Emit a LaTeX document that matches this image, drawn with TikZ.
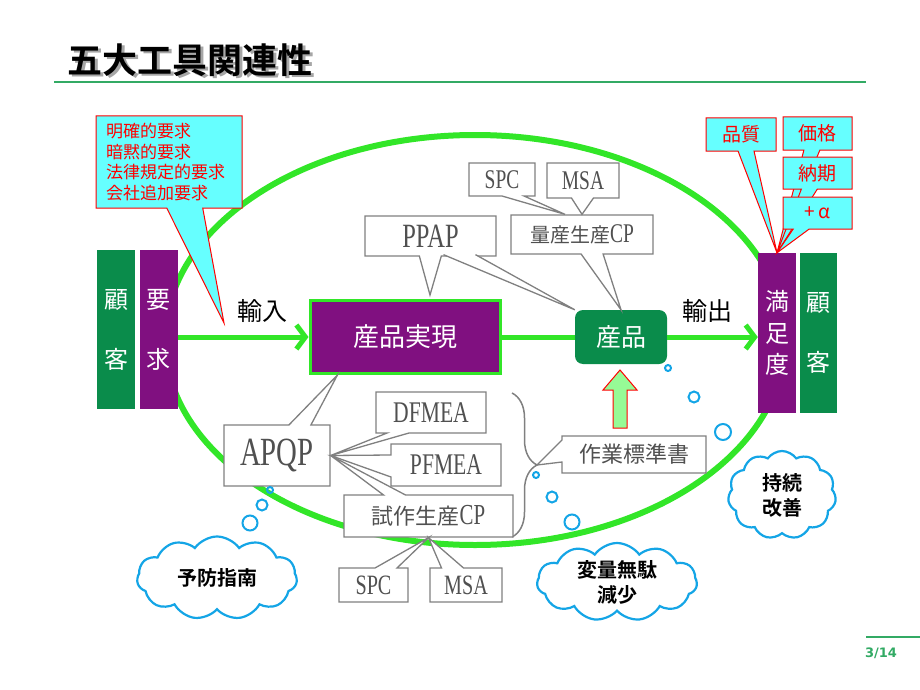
\documentclass[tikz,border=0pt]{standalone}
\usepackage{fontspec}
\setmainfont{Liberation Serif}
\newfontfamily\jp{Noto Sans CJK JP}
\newfontfamily\jpb{Noto Sans CJK JP Bold}
\newfontfamily\cond{Liberation Serif}[FakeStretch=0.72]
\newfontfamily\pagefont{DejaVu Sans}
\usepackage{tikz}
\usetikzlibrary{shapes.callouts, shapes.symbols}
\usetikzlibrary{arrows.meta}
\usetikzlibrary{decorations.pathreplacing, calc}
\usepackage{xcolor}
\definecolor{linegreen}{RGB}{50,230,40}
\definecolor{custgreen}{RGB}{10,140,75}
\definecolor{reqpurple}{RGB}{128,16,128}
\definecolor{notecyan}{RGB}{102,255,255}
\definecolor{boxgray}{RGB}{128,128,128}
\definecolor{textgray}{RGB}{80,80,80}
\definecolor{bubbleblue}{RGB}{20,165,230}
\definecolor{upgreen}{RGB}{150,250,150}
\definecolor{titlegreen}{RGB}{50,170,100}

\begin{document}
\begin{tikzpicture}[x=1pt, y=-1pt,
			bar/.style={minimum width=38pt, minimum height=159pt, inner sep=0pt, text=white, align=center},
			flow/.style={draw=linegreen, line width=5pt},
			redcall/.style={rectangle callout, draw=red, fill=notecyan, text=red, line width=1pt, inner sep=0pt, callout pointer width=16pt, font=\jp\fontsize{19}{22}\selectfont},
			graycall/.style={rectangle callout, draw=boxgray, fill=white, text=textgray, line width=1.3pt, inner sep=0pt, callout pointer width=22pt},
			thought/.style={cloud, cloud puffs=11, cloud puff arc=110, cloud ignores aspect, draw=bubbleblue, fill=white, line width=2.2pt, inner sep=0pt, align=center, font=\jpb\fontsize{20}{25}\selectfont},
			bubble/.style={draw=bubbleblue, line width=2pt}]
			\useasboundingbox (0,0) rectangle (920,690);
			
			\node[font=\jpb\fontsize{35}{40}\selectfont, text=black!35] (titleshade) at (192.5,62.5) {五大工具関連性};
			\node[font=\jpb\fontsize{35}{40}\selectfont] (title) at (190,60) {五大工具関連性};
			\draw[line width=2pt, titlegreen] (54,82) -- (866,82);
			\draw[line width=1.5pt, titlegreen] (866,637) -- (920,637);
			\node[font=\pagefont\bfseries\fontsize{13}{15}\selectfont, text=titlegreen] (pagenum) at (881,653) {3/14};
			
			\draw[draw=linegreen, line width=6pt] (475,340) ellipse [x radius=310pt, y radius=205pt];
			
			\node[bar, fill=custgreen, font=\jp\fontsize{24}{60}\selectfont] (cust) at (116,329.5) {顧\\客};
			\node[bar, fill=reqpurple, font=\jp\fontsize{24}{60}\selectfont] (req) at (158.5,329.5) {要\\求};
			\node[bar, fill=reqpurple, minimum height=160pt, font=\jp\fontsize{24}{31.5}\selectfont] (sat) at (777,333) {満\\足\\度};
			\node[bar, fill=custgreen, minimum height=160pt, minimum width=37pt, font=\jp\fontsize{24}{60}\selectfont] (custr) at (818.5,333) {顧\\客};
			
			\node[fill=reqpurple, draw=linegreen, line width=3pt, minimum width=190pt, minimum height=73pt, text=white, font=\jp\fontsize{26}{30}\selectfont] (real) at (405,337) {産品実現};
			\node[fill=custgreen, rounded corners=8pt, minimum width=92pt, minimum height=54pt, text=white, font=\jp\fontsize{25}{30}\selectfont] (prod) at (621,337) {産品};
			
			\draw[flow, -{Straight Barb[length=9pt, width=24pt]}] (req.east |- real.west) -- (real.west);
			\draw[flow] (real.east) -- (prod.west);
			\draw[flow, -{Straight Barb[length=9pt, width=24pt]}] (prod.east) -- (sat.west |- prod.east);
			\node[font=\jp\fontsize{25}{30}\selectfont] (inlbl) at (262,311) {輸入};
			\node[font=\jp\fontsize{25}{30}\selectfont] (outlbl) at (707,311) {輸出};
			
			\draw[draw=red, fill=upgreen, line width=1pt] (613,428) -- (613,390) -- (603,390) -- (620,370) -- (637,390) -- (627,390) -- (627,428) -- cycle;
			
			\coordinate (bracetop) at (512,393);
			\coordinate (bracebot) at (512,537);
			\coordinate (bracetip) at (537,465);
			\draw[decorate, decoration={brace, amplitude=25pt}, draw=boxgray, line width=1.5pt] (bracetop) -- (bracebot);
			
			\coordinate (inpt) at (224,323);
			\node[redcall, callout absolute pointer={(inpt)}, callout pointer width=36pt, minimum width=146pt, minimum height=92pt, text width=126pt, align=left, font=\jp\fontsize{17}{20.5}\selectfont] (reqnote) at (169,162) {明確的要求\\暗黙的要求\\法律規定的要求\\会社追加要求};
			
			\node[redcall, callout absolute pointer={(sat.north)}, minimum width=70pt, minimum height=33pt] (qual) at (741,134.5) {品質};
			\node[redcall, callout absolute pointer={(sat.north)}, minimum width=69pt, minimum height=33pt] (price) at (817.5,133.5) {価格};
			\node[redcall, callout absolute pointer={(sat.north)}, minimum width=69pt, minimum height=32pt] (deliv) at (817.5,173) {納期};
			\node[redcall, callout absolute pointer={(sat.north)}, minimum width=69pt, minimum height=32pt] (plusa) at (817.5,213) {+ α};
			
			\node[graycall, minimum width=142pt, minimum height=39pt, callout absolute pointer={(prod.north)}, font=\jp\fontsize{20}{24}\selectfont] (mpcp) at (582,234.5) {量産生産{\cond\fontsize{27}{28}\selectfont CP}};
			\node[graycall, minimum width=66pt, minimum height=33pt, callout absolute pointer={($(mpcp.north)+(-17,0)$)}, font=\cond\fontsize{27}{30}\selectfont] (spctop) at (502,179.5) {SPC};
			\node[graycall, minimum width=72pt, minimum height=35pt, callout absolute pointer={(mpcp.north)}, font=\cond\fontsize{27}{30}\selectfont] (msatop) at (583,180.5) {MSA};
			\node[graycall, minimum width=131pt, minimum height=40pt, callout absolute pointer={($(real.north)+(25,-4)$)}, font=\cond\fontsize{34}{36}\selectfont] (ppap) at (430.5,236) {PPAP};
			\filldraw[draw=boxgray, fill=white, line width=1.3pt] ($(ppap.south)+(13,-2)$) -- (prod.north west) -- ($(ppap.south)+(45,-2)$);
			
			\node[graycall, minimum width=106pt, minimum height=61pt, callout absolute pointer={($(real.south west)!0.15!(real.south east)$)}, font=\cond\fontsize{40}{44}\selectfont] (apqp) at (277,455.5) {APQP};
			\node[graycall, minimum width=110pt, minimum height=41pt, callout absolute pointer={(apqp.east)}, font=\cond\fontsize{30}{34}\selectfont] (dfmea) at (431,412.5) {DFMEA};
			\node[graycall, minimum width=110pt, minimum height=42pt, callout absolute pointer={(apqp.east)}, font=\cond\fontsize{30}{34}\selectfont] (pfmea) at (446,465) {PFMEA};
			\node[graycall, minimum width=169pt, minimum height=42pt, callout absolute pointer={(apqp.east)}, font=\jp\fontsize{22}{26}\selectfont] (tpcp) at (428.5,516) {試作生産{\cond\fontsize{29}{30}\selectfont CP}};
			\node[graycall, minimum width=69pt, minimum height=34pt, callout absolute pointer={(tpcp.south)}, font=\cond\fontsize{28}{30}\selectfont] (spcbot) at (373.5,585) {SPC};
			\node[graycall, minimum width=72pt, minimum height=34pt, callout absolute pointer={(tpcp.south)}, font=\cond\fontsize{28}{30}\selectfont] (msabot) at (466,585) {MSA};
			\node[graycall, minimum width=144pt, minimum height=37pt, callout absolute pointer={(bracetip)}, font=\jp\fontsize{22}{26}\selectfont] (wstd) at (634,454.5) {作業標準書};
			
			\foreach \bx/\by/\br in {270/490/3, 262/505/5.5, 250/523/7.5, 536/475/3, 552/497/5.5, 572/522/7.5, 668/368/3, 694/397/5.5, 723/432/8}
			\draw[bubble] (\bx,\by) circle [radius=\br pt];
			
			\node[thought, minimum width=160pt, minimum height=83pt] (prevent) at (217,578) {予防指南};
			\node[thought, minimum width=160pt, minimum height=78pt] (varred) at (617,582) {変量無駄\\減少};
			\node[thought, minimum width=108pt, minimum height=88pt] (kaizen) at (782,495) {持続\\改善};
		\end{tikzpicture}
\end{document}
